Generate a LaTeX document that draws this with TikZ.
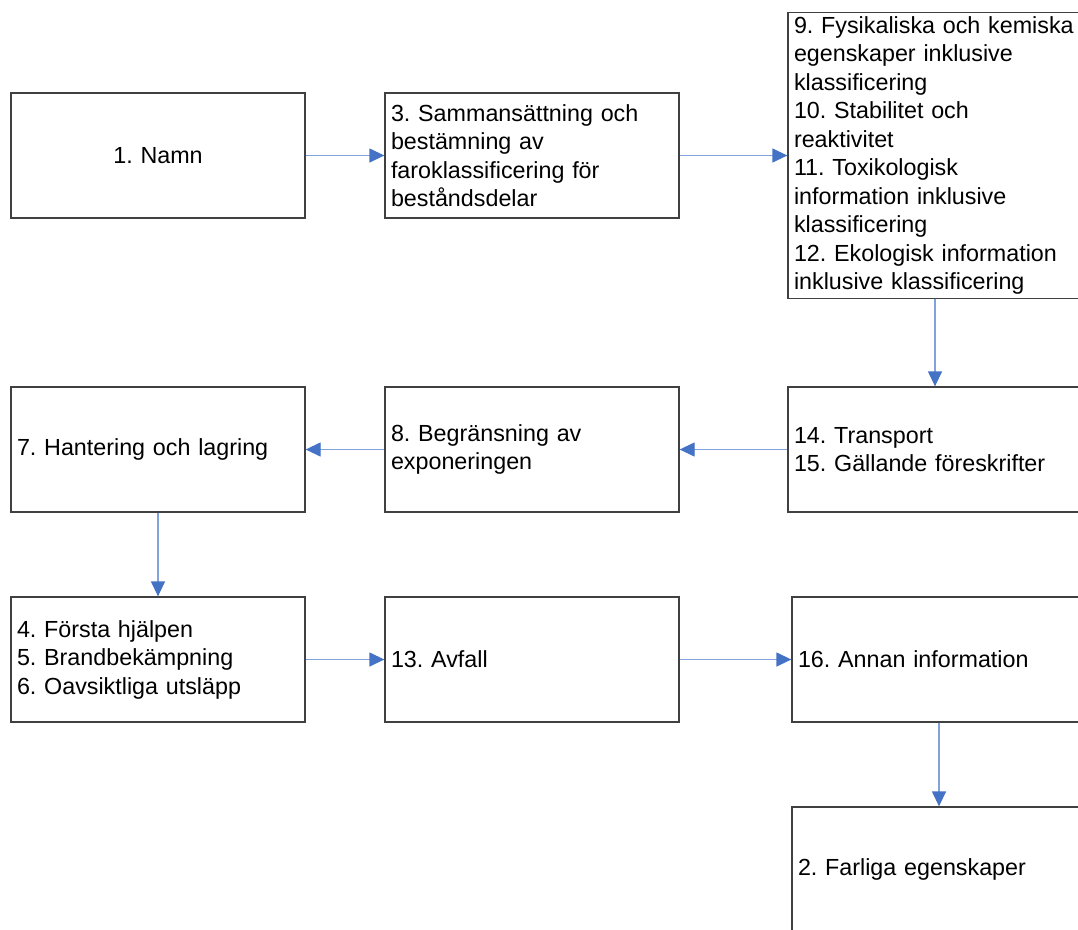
\documentclass[tikz,border=0pt]{standalone}
\usepackage{fontspec}
\setmainfont{Liberation Sans}
\usetikzlibrary{arrows.meta}
\definecolor{boxline}{HTML}{404040}
\definecolor{arrline}{HTML}{7FA3DA}
\definecolor{arrhead}{HTML}{4472C4}
\tikzset{
  box/.style={draw=boxline, line width=1.3pt, minimum width=294pt, minimum height=125pt,
    inner xsep=6pt, inner ysep=0pt, text width=282pt, align=left,
    font=\frenchspacing\fontsize{23.3}{28.5}\selectfont},
  boxtext/.style={yshift=-2pt},
  conn/.style={draw=arrline, line width=1.3pt,
    -{Triangle[length=15pt,width=14pt,color=arrhead]}}
}
\begin{document}
\frenchspacing
\begin{tikzpicture}[x=1pt,y=-1pt]
\useasboundingbox (0,0) rectangle (1078,929);
\clip (0,0) rectangle (1078,929);
\fill[white] (0,0) rectangle (1078,929);
\node[box, align=center] (b1) at (158,155.5) {1. Namn};
\node[box] (b3) at (532,155.5) {3. Sammansättning och\\bestämning av\\faroklassificering för\\beståndsdelar};
\node[box, minimum height=286pt, minimum width=310pt, text width=298pt] (b9) at (943,155.5) {9. Fysikaliska och kemiska\\egenskaper inklusive\\klassificering\\10. Stabilitet och\\reaktivitet\\11. Toxikologisk\\information inklusive\\klassificering\\12. Ekologisk information\\inklusive klassificering};
\node[box] (b7) at (158,449.5) {7. Hantering och lagring};
\node[box] (b8) at (532,449.5) {8. Begränsning av\\exponeringen};
\node[box] (b14) at (935,449.5) {14. Transport\\15. Gällande föreskrifter};
\node[box] (b4) at (158,659.5) {4. Första hjälpen\\5. Brandbekämpning\\6. Oavsiktliga utsläpp};
\node[box] (b13) at (532,659.5) {13. Avfall};
\node[box] (b16) at (939,659.5) {16. Annan information};
\node[box] (b2) at (939,869.5) {2. Farliga egenskaper};
\draw[conn] (b1.east) -- (b3.west);
\draw[conn] (b3.east) -- (b9.west);
\draw[conn] (b9.south -| b14.north) -- (b14.north);
\draw[conn] (b14.west) -- (b8.east);
\draw[conn] (b8.west) -- (b7.east);
\draw[conn] (b7.south) -- (b4.north);
\draw[conn] (b4.east) -- (b13.west);
\draw[conn] (b13.east) -- (b16.west);
\draw[conn] (b16.south) -- (b2.north);
\end{tikzpicture}
\end{document}
